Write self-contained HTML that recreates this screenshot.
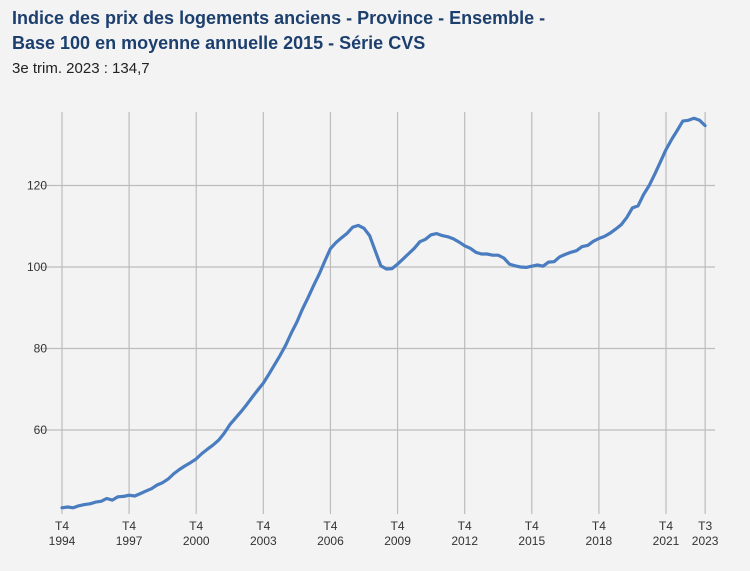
<!DOCTYPE html>
<html><head><meta charset="utf-8"><style>
body{margin:0;width:750px;height:571px;background:#f3f3f3;font-family:"Liberation Sans",sans-serif;overflow:hidden;position:relative}
#t{position:absolute;left:12px;top:6px;font-size:18px;font-weight:bold;color:#1d3f6e;line-height:25px;letter-spacing:0}
#s{position:absolute;left:12px;top:60px;font-size:15px;color:#222}
svg{position:absolute;left:0;top:0}
svg text{font-family:"Liberation Sans",sans-serif;font-size:12px;fill:#333}
</style></head><body>
<div id="t">Indice des prix des logements anciens - Province - Ensemble -<br>Base 100 en moyenne annuelle 2015 - Série CVS</div>
<div id="s">3e trim. 2023 : 134,7</div>
<svg id="c" width="750" height="571"></svg>
<script>
const yTicks=[60,80,100,120];
const xTickIdx=[0,12,24,36,48,60,72,84,96,108,115];
const xTickTop=["T4","T4","T4","T4","T4","T4","T4","T4","T4","T4","T3"];
const xTickBot=["1994","1997","2000","2003","2006","2009","2012","2015","2018","2021","2023"];
const values=[40.9,
41.1,40.9,41.4,41.7, 41.9,42.3,42.5,43.2, 42.8,43.6,43.7,44.0, 43.8,44.4,45.0,45.6,
46.5,47.1,48.0,49.3, 50.3,51.2,52.0,52.9, 54.2,55.3,56.3,57.5, 59.2,61.3,62.9,64.5,
66.2,68.0,69.8,71.5, 73.7,76.0,78.3,80.8, 83.8,86.5,89.7,92.5, 95.5,98.3,101.5,104.5,
106.0,107.2,108.3,109.8, 110.2,109.5,107.7,104.0, 100.3,99.5,99.6,100.7, 102.0,103.3,104.6,106.2,
106.8,107.9,108.2,107.7, 107.4,106.9,106.1,105.2, 104.6,103.6,103.2,103.2, 102.9,102.9,102.2,100.7,
100.3,100.0,99.9,100.2, 100.5,100.2,101.2,101.3, 102.5,103.1,103.6,104.0, 105.0,105.3,106.3,107.0,
107.5,108.3,109.3,110.4, 112.2,114.5,115.0,117.8, 120.0,122.8,125.8,128.8, 131.3,133.5,135.8,136.0,
136.5,136.0,134.7];
const NS="http://www.w3.org/2000/svg";
const svg=document.getElementById('c');
const X=i=>62+i*(604/108);
const Y=v=>511.5-(v-40)*4.075;
function mk(tag,a){const e=document.createElementNS(NS,tag);for(const k in a)e.setAttribute(k,a[k]);svg.appendChild(e);return e;}
yTicks.forEach(v=>{
  const l=mk('line',{x1:40,x2:715,y1:Y(v),y2:Y(v),stroke:'#bdbdbd','stroke-width':1.2});
  
  
  const t=mk('text',{x:47,y:Y(v)+4,'text-anchor':'end'});t.textContent=v;
  
  
});
xTickIdx.forEach((i,k)=>{
  const l=mk('line',{x1:X(i),x2:X(i),y1:112,y2:514,stroke:'#bdbdbd','stroke-width':1.2});
  
  
  const t=mk('text',{x:X(i),y:530,'text-anchor':'middle'});t.textContent=xTickTop[k];
  
  
  const t2=mk('text',{x:X(i),y:545,'text-anchor':'middle'});t2.textContent=xTickBot[k];
  
  
});
const p=mk('path',{d:values.map((v,i)=>(i?'L':'M')+X(i).toFixed(1)+','+Y(v).toFixed(1)).join(''),fill:'none',stroke:'#4a7cc0','stroke-width':3.2,'stroke-linejoin':'round','stroke-linecap':'round'});


</script>
</body></html>
